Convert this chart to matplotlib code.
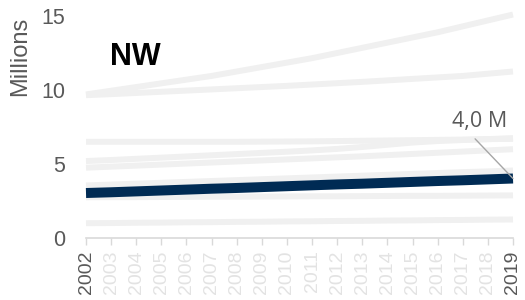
import matplotlib
matplotlib.use("Agg")
import matplotlib.pyplot as plt

years = list(range(2002, 2020))

# Other regions (grey background lines), millions
other_regions = {
    "R1": [9.70, 9.95, 10.20, 10.45, 10.70, 10.95, 11.25, 11.55, 11.85, 12.15,
           12.50, 12.85, 13.20, 13.55, 13.90, 14.30, 14.70, 15.10],
    "R2": [9.65, 9.72, 9.80, 9.88, 9.96, 10.04, 10.12, 10.20, 10.28, 10.37,
           10.46, 10.55, 10.65, 10.75, 10.85, 10.95, 11.10, 11.25],
    "R3": [6.50, 6.50, 6.50, 6.50, 6.50, 6.50, 6.50, 6.51, 6.52, 6.53,
           6.55, 6.57, 6.59, 6.61, 6.63, 6.65, 6.68, 6.70],
    "R4": [5.20, 5.27, 5.35, 5.43, 5.51, 5.59, 5.67, 5.75, 5.83, 5.92,
           6.02, 6.15, 6.30, 6.45, 6.55, 6.62, 6.68, 6.75],
    "R5": [4.75, 4.82, 4.89, 4.96, 5.03, 5.10, 5.17, 5.24, 5.31, 5.38,
           5.45, 5.52, 5.60, 5.68, 5.76, 5.84, 5.92, 6.00],
    "R6": [3.55, 3.61, 3.67, 3.73, 3.79, 3.85, 3.91, 3.97, 4.03, 4.09,
           4.15, 4.21, 4.27, 4.33, 4.39, 4.45, 4.50, 4.56],
    "R7": [2.75, 2.76, 2.76, 2.77, 2.78, 2.79, 2.79, 2.80, 2.81, 2.82,
           2.82, 2.83, 2.84, 2.85, 2.85, 2.86, 2.87, 2.88],
    "R8": [1.00, 1.01, 1.03, 1.04, 1.06, 1.07, 1.09, 1.10, 1.12, 1.13,
           1.15, 1.16, 1.18, 1.19, 1.21, 1.22, 1.24, 1.25],
}

nw = [3.04, 3.09, 3.15, 3.21, 3.27, 3.33, 3.38, 3.44, 3.50, 3.56,
      3.62, 3.67, 3.73, 3.79, 3.85, 3.90, 3.96, 4.02]

highlight_name = "NW"
last_label = "4,0 M"
y_ticks = [0, 5, 10, 15]

plt.rcParams["font.family"] = ["Liberation Sans", "DejaVu Sans"]

fig = plt.figure(figsize=(5.25, 3.0), dpi=100)
ax = fig.add_axes([86 / 525, 62 / 300, 427 / 525, 222 / 300])

for name, vals in other_regions.items():
    ax.plot(years, vals, color="#f0f0f0", lw=4.3, solid_capstyle="butt",
            clip_on=False, zorder=2)

ax.plot(years, nw, color="#002b54", lw=7.2, solid_capstyle="butt",
        clip_on=False, zorder=3)

ax.set_xlim(years[0], years[-1])
ax.set_ylim(0, 15)

for s in ["top", "right", "left"]:
    ax.spines[s].set_visible(False)
ax.spines["bottom"].set_color("#d9d9d9")
ax.spines["bottom"].set_linewidth(1.2)

ax.set_xticks(years)
ax.set_xticklabels([str(y) for y in years], rotation=90, fontsize=14)
for i, lab in enumerate(ax.get_xticklabels()):
    if i == 0 or i == len(years) - 1:
        lab.set_color("#595959")
    else:
        lab.set_color("#e3e3e3")
ax.tick_params(axis="x", length=5, width=1, color="#d9d9d9", pad=4)

ax.set_yticks(y_ticks)
ax.set_yticklabels([str(v) for v in y_ticks], fontsize=15.5, color="#595959")
ax.tick_params(axis="y", length=0, pad=15)

fig.text(20 / 525, 1 - 56 / 300, "Millions", rotation=90, fontsize=17,
         color="#595959", ha="center", va="center")

ax.text(0.056, 0.815, highlight_name, transform=ax.transAxes, fontsize=22,
        fontweight="bold", color="black", ha="left", va="center")

ax.annotate(last_label, xy=(years[-1], nw[-1]), xytext=(-24, 41),
            textcoords="offset points", ha="center", va="center",
            fontsize=15.5, color="#595959", family=["Open Sans", "DejaVu Sans"],
            arrowprops=dict(arrowstyle="-", color="#a6a6a6", lw=1.0,
                            relpos=(0.3, 0), shrinkA=4, shrinkB=0),
            annotation_clip=False, zorder=4)

fig.savefig("out.png", dpi=100)
